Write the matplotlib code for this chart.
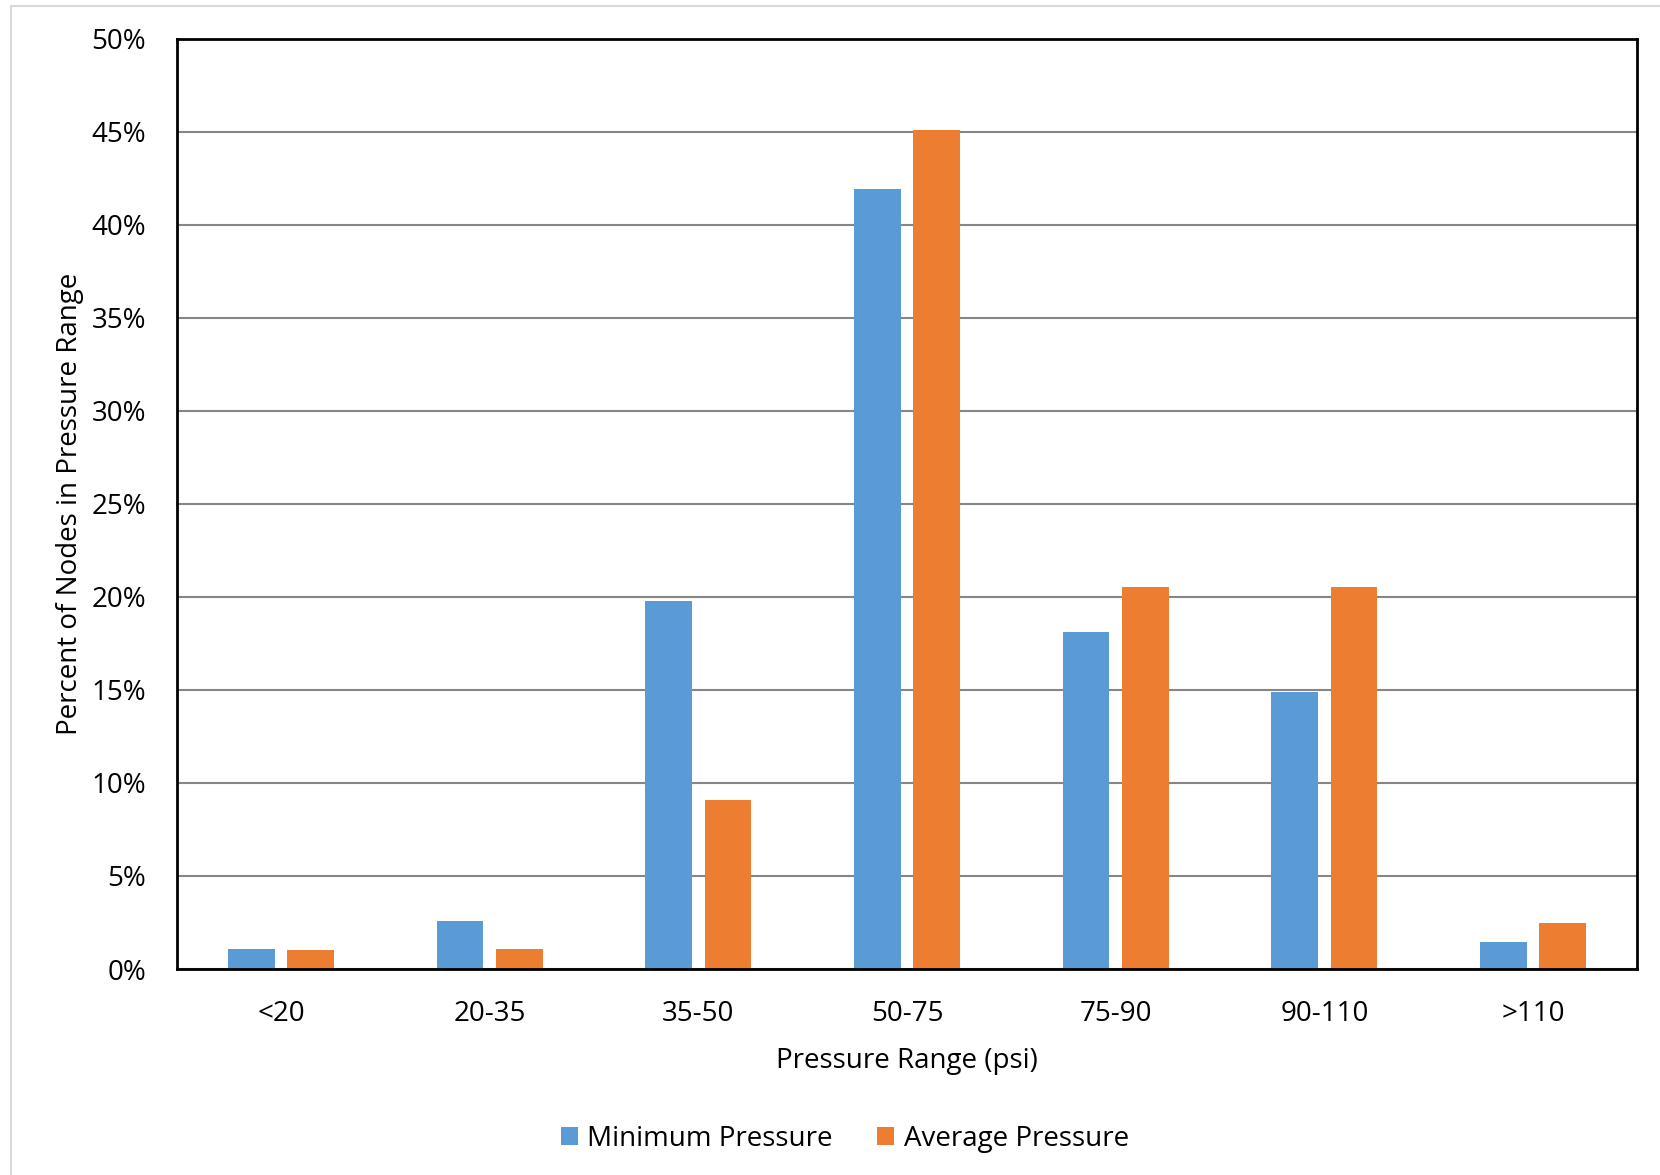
import numpy as np
import matplotlib.pyplot as plt
from matplotlib.lines import Line2D

plt.rcParams['font.family'] = ['Open Sans', 'DejaVu Sans']

# Data
categories = ['<20', '20-35', '35-50', '50-75', '75-90', '90-110', '>110']
min_pressure = [1.05, 2.6, 19.8, 41.9, 18.1, 14.9, 1.45]
avg_pressure = [1.0, 1.05, 9.1, 45.07, 20.55, 20.5, 2.48]
series_names = ['Minimum Pressure', 'Average Pressure']
yticks = np.arange(0, 51, 5)

blue = '#5b9bd5'
orange = '#ed7d31'

W, H = 1660, 1175
fig = plt.figure(figsize=(W / 100, H / 100), dpi=100)
ax = fig.add_axes([176.7 / W, (H - 969) / H, (1637.3 - 176.7) / W, (969 - 38.5) / H])

x = np.arange(len(categories))
bw = 0.223
off = 0.142
ax.bar(x - off, min_pressure, bw, color=blue, label=series_names[0], zorder=3)
ax.bar(x + off, avg_pressure, bw, color=orange, label=series_names[1], zorder=3)

ax.set_xlim(-0.5, len(categories) - 0.5)
ax.set_ylim(0, 50)
ax.set_yticks(yticks)
ax.set_yticklabels([f'{v}%' for v in yticks])
ax.set_xticks(x)
ax.set_xticklabels(categories)
ax.tick_params(axis='both', length=0, labelsize=20, colors='#000000')
ax.tick_params(axis='y', pad=22)
ax.tick_params(axis='x', pad=22)

ax.yaxis.grid(True, color='#868686', linewidth=1.5, zorder=0)
ax.set_axisbelow(True)
for s in ax.spines.values():
    s.set_color('black')
    s.set_linewidth(2)
    s.set_zorder(4)

ax.set_xlabel('Pressure Range (psi)', fontsize=20, labelpad=14)
ax.set_ylabel('Percent of Nodes in Pressure Range', fontsize=20)
ax.yaxis.set_label_coords(-(176.7 - 84) / (1637.3 - 176.7), 0.5)

leg = fig.legend(loc='center', bbox_to_anchor=(845 / W, 1 - 1139 / H), ncol=2,
                 frameon=False, fontsize=20, handlelength=0.6, handleheight=0.6,
                 handletextpad=0.35, columnspacing=1.6)

# light outer frame (top and left edges)
fig.add_artist(Line2D([11 / W, 1], [1 - 6 / H, 1 - 6 / H], color='#d9d9d9', lw=1.5,
                      transform=fig.transFigure))
fig.add_artist(Line2D([11 / W, 11 / W], [0, 1 - 6 / H], color='#d9d9d9', lw=1.5,
                      transform=fig.transFigure))

fig.savefig('out.png', dpi=100)
